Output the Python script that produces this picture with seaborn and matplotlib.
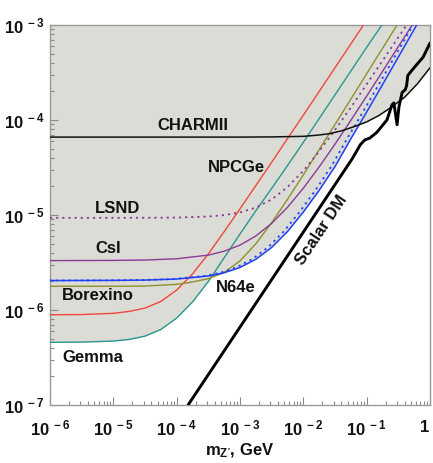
import numpy as np
import pandas as pd
import matplotlib
matplotlib.use("Agg")
import matplotlib.pyplot as plt
import seaborn as sns
from matplotlib.ticker import FixedLocator, LogLocator, NullFormatter, FixedFormatter

# ---------------- data (log10 of mass [GeV] and of coupling) ----------------
gemma_logm = [-6.0, -5.5, -5.0, -4.75, -4.5, -4.25, -4.0, -3.75, -3.5, -3.25, -3.0, -2.75, -2.5, -2.25, -2.0, -1.5, -1.0, -0.76]
gemma_logg = [-6.34, -6.338, -6.327, -6.31, -6.275, -6.205, -6.085, -5.915, -5.70, -5.45, -5.20, -4.955, -4.72, -4.48, -4.235, -3.735, -3.235, -3.0]

red_logm = [-6.0, -5.5, -5.0, -4.75, -4.5, -4.25, -4.0, -3.75, -3.5, -3.25, -3.0, -2.75, -2.5, -2.25, -2.0, -1.5, -1.05]
red_logg = [-6.05, -6.048, -6.035, -6.015, -5.98, -5.91, -5.79, -5.62, -5.41, -5.175, -4.935, -4.69, -4.445, -4.195, -3.95, -3.45, -3.0]

borexino_logm = [-6.0, -5.0, -4.5, -4.0, -3.75, -3.5, -3.25, -3.0, -2.75, -2.5, -2.25, -2.0, -1.5, -1.0, -0.52]
borexino_logg = [-5.75, -5.75, -5.748, -5.73, -5.705, -5.67, -5.605, -5.483, -5.303, -5.081, -4.835, -4.577, -4.047, -3.513, -3.0]

csi_logm = [-6.0, -5.0, -4.5, -4.0, -3.5, -3.25, -3.0, -2.75, -2.5, -2.25, -2.0, -1.75, -1.5, -1.25, -1.0, -0.75, -0.5, -0.28]
csi_logg = [-5.48, -5.478, -5.474, -5.461, -5.422, -5.381, -5.317, -5.221, -5.088, -4.919, -4.718, -4.494, -4.254, -4.004, -3.748, -3.489, -3.227, -3.0]

lsnd_logm = [-6.0, -5.0, -4.5, -4.0, -3.5, -3.25, -3.0, -2.75, -2.5, -2.25, -2.0, -1.75, -1.5, -1.25, -1.0, -0.75, -0.5, -0.37]
lsnd_logg = [-5.03, -5.03, -5.029, -5.027, -5.016, -5.001, -4.973, -4.922, -4.836, -4.706, -4.535, -4.33, -4.105, -3.868, -3.624, -3.377, -3.129, -3.0]

n64e_logm = [-6.0, -5.0, -4.5, -4.0, -3.5, -3.25, -3.0, -2.75, -2.5, -2.25, -2.0, -1.75, -1.5, -1.25, -1.0, -0.75, -0.5, -0.21]
n64e_logg = [-5.69, -5.688, -5.685, -5.674, -5.642, -5.608, -5.552, -5.466, -5.341, -5.174, -4.968, -4.74, -4.49, -4.198, -3.916, -3.628, -3.337, -3.0]

n64e_dot_logm = [-6.0, -5.06, -4.56, -4.06, -3.56, -3.31, -3.06, -2.81, -2.56, -2.31, -2.06, -1.81, -1.56, -1.31, -1.06, -0.81, -0.56, -0.27]
n64e_dot_logg = [-5.69, -5.688, -5.685, -5.674, -5.642, -5.608, -5.552, -5.466, -5.341, -5.174, -4.968, -4.74, -4.49, -4.198, -3.916, -3.628, -3.337, -3.0]

charm_logm = [-6.0, -4.0, -3.0, -2.5, -2.0, -1.78, -1.6, -1.4, -1.2, -1.0, -0.8, -0.6, -0.4, -0.2, 0.0]
charm_logg = [-4.18, -4.18, -4.18, -4.178, -4.172, -4.16, -4.145, -4.115, -4.07, -4.02, -3.95, -3.86, -3.76, -3.62, -3.45]

scalar_logm = [-3.82, -1.23, -1.1, -1.03, -0.95, -0.84, -0.68, -0.60, -0.57, -0.52, -0.49, -0.44, -0.39, -0.37, -0.35, -0.24, -0.11, 0.0]
scalar_logg = [-7.0, -4.41, -4.26, -4.21, -4.19, -4.13, -4.0, -3.84, -3.82, -4.05, -3.86, -3.71, -3.68, -3.64, -3.53, -3.44, -3.34, -3.19]

x_tick_labels = [r'$\mathbf{10}^{\mathbf{\;-6}}$', r'$\mathbf{10}^{\mathbf{\;-5}}$', r'$\mathbf{10}^{\mathbf{\;-4}}$',
                 r'$\mathbf{10}^{\mathbf{\;-3}}$', r'$\mathbf{10}^{\mathbf{\;-2}}$', r'$\mathbf{10}^{\mathbf{\;-1}}$',
                 r'$\mathbf{1}$']
y_tick_labels = [r'$\mathbf{10}^{\mathbf{\;-7}}$', r'$\mathbf{10}^{\mathbf{\;-6}}$', r'$\mathbf{10}^{\mathbf{\;-5}}$',
                 r'$\mathbf{10}^{\mathbf{\;-4}}$', r'$\mathbf{10}^{\mathbf{\;-3}}$']
x_ticks = [1e-6, 1e-5, 1e-4, 1e-3, 1e-2, 1e-1, 1.0]
y_ticks = [1e-7, 1e-6, 1e-5, 1e-4, 1e-3]

# ---------------- style ----------------
sns.set_theme(style="white")
plt.rcParams['font.family'] = ['Liberation Sans', 'DejaVu Sans']
plt.rcParams['mathtext.fontset'] = 'custom'
plt.rcParams['mathtext.rm'] = 'Liberation Sans:bold'
plt.rcParams['mathtext.bf'] = 'Liberation Sans:bold'
plt.rcParams['mathtext.it'] = 'Liberation Sans:bold'

FILL = '#dcdcd6'
RED = '#f2463a'
TEAL = '#2b9690'
OLIVE = '#8f8f2c'
PURPLE = '#8c3a98'
BLUE = '#2040f5'

fig = plt.figure(figsize=(4.33, 4.63), dpi=100)
ax = fig.add_axes([50 / 433, 58 / 463, 380 / 433, 380 / 463])
ax.set_xscale('log')
ax.set_yscale('log')
ax.set_xlim(1e-6, 1.0)
ax.set_ylim(1e-7, 1e-3)

def df(logm, logg):
    return pd.DataFrame({'m': np.power(10.0, logm), 'g': np.power(10.0, logg)})

curves = [
    (df(gemma_logm, gemma_logg), TEAL, '-', 1.0),
    (df(red_logm, red_logg), RED, '-', 1.0),
    (df(borexino_logm, borexino_logg), OLIVE, '-', 1.0),
    (df(lsnd_logm, lsnd_logg), PURPLE, (0, (1.2, 2.2)), 1.3),
    (df(csi_logm, csi_logg), PURPLE, '-', 1.0),
    (df(n64e_dot_logm, n64e_dot_logg), BLUE, (0, (1.2, 2.2)), 1.3),
    (df(n64e_logm, n64e_logg), BLUE, '-', 1.1),
    (df(charm_logm, charm_logg), '#111111', '-', 1.1),
]

# excluded region: union of areas above each curve
for d, c, ls, lw in curves:
    ax.fill_between(d['m'], d['g'], 1e-3, color=FILL, lw=0, zorder=0)

for d, c, ls, lw in curves:
    sns.lineplot(data=d, x='m', y='g', ax=ax, color=c, linestyle=ls, lw=lw,
                 sort=False, estimator=None, zorder=3)

sd = df(scalar_logm, scalar_logg)
sns.lineplot(data=sd, x='m', y='g', ax=ax, color='black', lw=2.1, sort=False,
             estimator=None, zorder=4)

# ---------------- labels ----------------
lab = dict(fontsize=12, fontweight='bold', color='#111111', ha='left', va='baseline', zorder=5)
ax.text(10 ** -4.31, 10 ** -4.105, 'CHARMII', **lab)
ax.text(10 ** -3.505, 10 ** -4.547, 'NPCGe', **lab)
ax.text(10 ** -5.29, 10 ** -4.979, 'LSND', **lab)
ax.text(10 ** -5.29, 10 ** -5.40, 'CsI', **lab)
ax.text(10 ** -5.81, 10 ** -5.895, 'Borexino', **lab)
ax.text(10 ** -5.81, 10 ** -6.547, 'Gemma', **lab)
ax.text(10 ** -3.379, 10 ** -5.81, 'N64e', **lab)
ax.text(10 ** -1.72, 10 ** -5.16, 'Scalar DM', fontsize=12, fontweight='bold', color='#111111',
        ha='center', va='center', rotation=56.3, rotation_mode='anchor', zorder=5)

# ---------------- axes ----------------
ax.xaxis.set_major_locator(FixedLocator(x_ticks))
ax.xaxis.set_major_formatter(FixedFormatter(x_tick_labels))
ax.yaxis.set_major_locator(FixedLocator(y_ticks))
ax.yaxis.set_major_formatter(FixedFormatter(y_tick_labels))
ax.xaxis.set_minor_locator(LogLocator(base=10, subs=np.arange(2, 10)))
ax.yaxis.set_minor_locator(LogLocator(base=10, subs=np.arange(2, 10)))
ax.xaxis.set_minor_formatter(NullFormatter())
ax.yaxis.set_minor_formatter(NullFormatter())
ax.tick_params(which='both', direction='in', left=True, bottom=True, top=False, right=False,
               color='#8a8a8a', labelcolor='#111111', labelsize=12)
ax.tick_params(which='major', length=6, width=0.8)
ax.tick_params(which='minor', length=3, width=0.8)
ax.tick_params(axis='x', which='major', pad=10)
ax.tick_params(axis='y', which='major', pad=4)
for s in ax.spines.values():
    s.set_color('#9a9a9a')
    s.set_linewidth(1.0)
ax.set_xlabel(r"$\mathbf{m_{Z'}}$, GeV", fontsize=12, fontweight='bold', color='#111111', labelpad=2)
ax.set_ylabel('')
ax.grid(False)

# last x label ("1") sits inside the right edge
ax.xaxis.get_major_ticks()[-1].label1.set_horizontalalignment('right')

fig.savefig('out.png', dpi=100)
